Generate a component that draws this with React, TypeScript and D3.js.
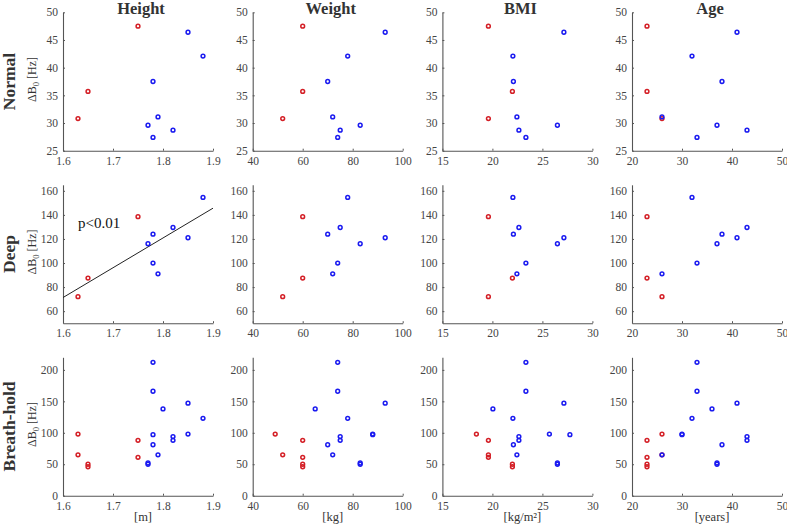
import * as d3 from "d3";
import { useEffect, useRef } from "react";

const colTitles = ["Height", "Weight", "BMI", "Age"];
const rowTitles = ["Normal", "Deep", "Breath-hold"];
const unitLabels = ["[m]", "[kg]", "[kg/m²]", "[years]"];

const xDomains: [number, number][] = [[1.6, 1.9], [40, 100], [15, 30], [20, 50]];
const xTicks = [[1.6, 1.7, 1.8, 1.9], [40, 60, 80, 100], [15, 20, 25, 30], [20, 30, 40, 50]];
const yDomains: [number, number][] = [[25, 50], [50, 165], [0, 220]];
const yTicks = [[25, 30, 35, 40, 45, 50], [60, 80, 100, 120, 140, 160], [0, 50, 100, 150, 200]];

// Normal / Deep breathing: one point per volunteer
const groups = ["r", "r", "r", "b", "b", "b", "b", "b", "b", "b"];
const heights = [1.63, 1.65, 1.75, 1.85, 1.88, 1.78, 1.79, 1.77, 1.82, 1.78];
const weights = [52, 60, 60, 93, 78, 70, 72, 83, 75, 74];
const bmis = [19.6, 22.0, 19.6, 27.15, 22.05, 22.1, 22.45, 26.5, 22.65, 23.35];
const ages = [26, 23, 23, 41, 32, 38, 26, 37, 43, 33];
const normalB0 = [30.8, 35.7, 47.5, 46.4, 42.1, 37.5, 31.1, 29.6, 28.7, 27.4];
const deepB0 = [72, 87.5, 138.5, 121, 154.5, 124, 91, 116, 129.5, 100];

// Breath-hold: repeated measurements
const bhGroups = ["r", "r", "r", "r", "r", "r", "b", "b", "b", "b", "b", "b", "b", "b", "b", "b", "b", "b", "b"];
const bhHeights = [1.63, 1.63, 1.65, 1.65, 1.75, 1.75, 1.78, 1.78, 1.80, 1.88, 1.85, 1.82, 1.82, 1.78, 1.79, 1.77, 1.77, 1.85, 1.78];
const bhWeights = [49, 52, 60, 60, 60, 60, 74, 74, 65, 78, 93, 75, 75, 70, 72, 83, 83, 88, 88];
const bhBmis = [18.4, 19.6, 22.0, 22.0, 19.6, 19.6, 23.35, 23.35, 20.05, 22.05, 27.15, 22.65, 22.65, 22.1, 22.45, 26.5, 26.5, 25.7, 27.75];
const bhAges = [26, 26, 23, 23, 23, 23, 33, 33, 36, 32, 41, 43, 43, 38, 26, 37, 37, 30, 30];
const breathHoldB0 = [98, 65, 50, 46, 88, 61, 212, 166, 138, 123, 147, 94, 88, 81, 65, 52, 50, 98, 97];

// significant fit: Deep vs Height
const fitRow = 1, fitCol = 0;
const fitLabel = "p<0.01";
const fitLabelAt = [1.63, 129];

const colors: Record<string, string> = { r: "#d41f26", b: "#1a1af0" };
const serif = "Liberation Serif";

const App: React.FC = () => {
    const svgRef = useRef<SVGSVGElement | null>(null);

    useEffect(() => {
        const svg = d3.select(svgRef.current);
        svg.selectAll("*").remove();

        const colLeft = [63, 252.7, 442.4, 632];
        const rowTop = [12.3, 184.8, 357.3];
        const plotW = 150, plotH = 138.4;

        const rowData = [
            { g: groups, xs: [heights, weights, bmis, ages], y: normalB0 },
            { g: groups, xs: [heights, weights, bmis, ages], y: deepB0 },
            { g: bhGroups, xs: [bhHeights, bhWeights, bhBmis, bhAges], y: breathHoldB0 },
        ];

        rowData.forEach((rd, ri) => {
            const y = d3.scaleLinear().domain(yDomains[ri]).range([rowTop[ri] + plotH, rowTop[ri]]);

            // row label
            const cy = rowTop[ri] + plotH / 2;
            svg.append("text")
                .attr("transform", `translate(15,${cy}) rotate(-90)`)
                .attr("text-anchor", "middle")
                .attr("font-family", serif).attr("font-weight", "bold").attr("font-size", 17.5)
                .attr("fill", "#333")
                .text(rowTitles[ri]);

            const yl = svg.append("text")
                .attr("transform", `translate(35.5,${cy - 2}) rotate(-90)`)
                .attr("text-anchor", "middle")
                .attr("font-family", serif).attr("font-size", 12)
                .attr("fill", "#333");
            yl.append("tspan").text("ΔB");
            yl.append("tspan").attr("dy", 3).attr("font-size", 8.5).text("0");
            yl.append("tspan").attr("dy", -3).text(" [Hz]");

            rd.xs.forEach((xv, ci) => {
                const x = d3.scaleLinear().domain(xDomains[ci]).range([colLeft[ci], colLeft[ci] + plotW]);
                const g = svg.append("g");

                const ax = g.append("g")
                    .attr("transform", `translate(0,${rowTop[ri] + plotH})`)
                    .call(d3.axisBottom(x).tickValues(xTicks[ci]).tickFormat(d => String(d)).tickSizeInner(-2).tickSizeOuter(0).tickPadding(6));
                const ay = g.append("g")
                    .attr("transform", `translate(${colLeft[ci]},0)`)
                    .call(d3.axisLeft(y).tickValues(yTicks[ri]).tickFormat(d => String(d)).tickSizeInner(-2).tickSizeOuter(0).tickPadding(5));
                [ax, ay].forEach(a => {
                    a.attr("font-family", serif).attr("font-size", 11.5);
                    a.select(".domain").attr("stroke", "#555").attr("stroke-width", 1.1);
                    a.selectAll(".tick line").attr("stroke", "#555");
                    a.selectAll(".tick text").attr("fill", "#444");
                });

                if (ri === 0) {
                    svg.append("text")
                        .attr("x", colLeft[ci] + plotW / 2 + 3).attr("y", 13.5)
                        .attr("text-anchor", "middle")
                        .attr("font-family", serif).attr("font-weight", "bold").attr("font-size", 16.5)
                        .attr("fill", "#333")
                        .text(colTitles[ci]);
                }
                if (ri === 2) {
                    svg.append("text")
                        .attr("x", colLeft[ci] + plotW / 2 + 5).attr("y", 521)
                        .attr("text-anchor", "middle")
                        .attr("font-family", serif).attr("font-size", 12.5)
                        .attr("fill", "#333")
                        .text(unitLabels[ci]);
                }

                if (ri === fitRow && ci === fitCol) {
                    const mx = d3.mean(xv)!, my = d3.mean(rd.y)!;
                    const slope = d3.sum(xv, (v, i) => (v - mx) * (rd.y[i] - my)) / d3.sum(xv, v => (v - mx) ** 2);
                    const [x0, x1] = xDomains[ci];
                    g.append("line")
                        .attr("x1", x(x0)).attr("y1", y(my + slope * (x0 - mx)))
                        .attr("x2", x(x1)).attr("y2", y(my + slope * (x1 - mx)))
                        .attr("stroke", "#222").attr("stroke-width", 1);
                    g.append("text")
                        .attr("x", x(fitLabelAt[0])).attr("y", y(fitLabelAt[1]))
                        .attr("font-family", serif).attr("font-size", 15)
                        .attr("fill", "#111")
                        .text(fitLabel);
                }

                g.selectAll("circle")
                    .data(xv.map((v, i) => ({ x: v, y: rd.y[i], c: rd.g[i] })))
                    .join("circle")
                    .attr("cx", d => x(d.x))
                    .attr("cy", d => y(d.y))
                    .attr("r", 1.9)
                    .attr("fill", "none")
                    .attr("stroke", d => colors[d.c])
                    .attr("stroke-width", 1.5);
            });
        });
    }, []);

    return (
        <svg ref={svgRef} width={787} height={527}
            style={{ position: "fixed", left: 0, top: 0, background: "#fff" }} />
    );
};

export default App;
